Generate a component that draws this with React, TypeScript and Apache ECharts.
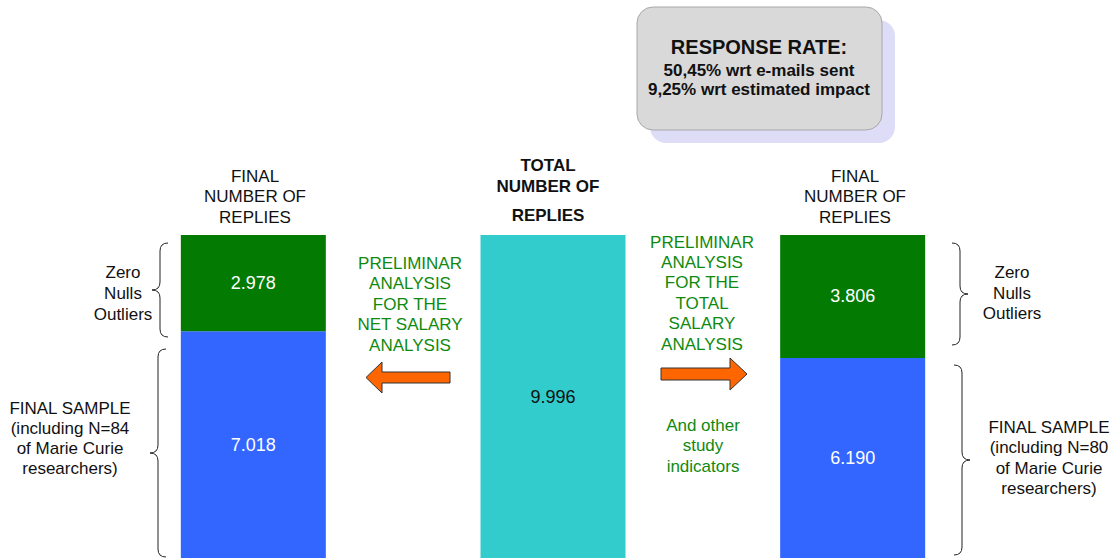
import React, { useEffect, useRef } from "react";
import * as echarts from "echarts";

const categories = ["Net salary", "Total replies", "Total salary"];
const finalSample = [7018, null, 6190];
const zeroNullsOutliers = [2978, null, 3806];
const totalReplies = [null, 9996, null];

const headingSide = "FINAL\nNUMBER OF\nREPLIES";
const headingMidTop = "TOTAL\nNUMBER OF";
const headingMidBottom = "REPLIES";
const zeroText = "Zero\nNulls\nOutliers";
const sampleLeft = "FINAL SAMPLE\n(including N=84\nof Marie Curie\nresearchers)";
const sampleRight = "FINAL SAMPLE\n(including N=80\nof Marie Curie\nresearchers)";
const prelimLeft = "PRELIMINAR\nANALYSIS\nFOR THE\nNET SALARY\nANALYSIS";
const prelimRight = "PRELIMINAR\nANALYSIS\nFOR THE\nTOTAL\nSALARY\nANALYSIS";
const otherText = "And other\nstudy\nindicators";
const rateTitle = "RESPONSE RATE:";
const rateLine1 = "50,45% wrt e-mails sent";
const rateLine2 = "9,25% wrt estimated impact";

const FONT = '"Liberation Sans", Arial, sans-serif';
const GREEN_TEXT = "#0F8A0F";

function fmt(v: number): string {
  return String(v).replace(/\B(?=(\d{3})+(?!\d))/g, ".");
}

function brace(xl: number, y1: number, y2: number, dir: number) {
  const r = 8;
  const ry = 8;
  const ym = (y1 + y2) / 2;
  const endX = xl - dir * r;
  const tipX = xl + dir * r;
  const st = { stroke: "#222", lineWidth: 1, fill: null };
  return {
    type: "group",
    children: [
      { type: "bezierCurve", shape: { x1: endX, y1: y1, cpx1: xl, cpy1: y1, x2: xl, y2: y1 + ry }, style: st },
      { type: "line", shape: { x1: xl, y1: y1 + ry, x2: xl, y2: ym - ry }, style: st },
      { type: "bezierCurve", shape: { x1: xl, y1: ym - ry, cpx1: xl, cpy1: ym, x2: tipX, y2: ym }, style: st },
      { type: "bezierCurve", shape: { x1: tipX, y1: ym, cpx1: xl, cpy1: ym, x2: xl, y2: ym + ry }, style: st },
      { type: "line", shape: { x1: xl, y1: ym + ry, x2: xl, y2: y2 - ry }, style: st },
      { type: "bezierCurve", shape: { x1: xl, y1: y2 - ry, cpx1: xl, cpy1: y2, x2: endX, y2: y2 }, style: st },
    ],
  };
}

function txt(text: string, x: number, y: number, size: number, fill: string, lineHeight: number, weight = "normal") {
  return {
    type: "text",
    x,
    y,
    style: {
      text,
      fill,
      fontFamily: FONT,
      fontSize: size,
      fontWeight: weight,
      lineHeight,
      align: "center",
      verticalAlign: "middle",
    },
  };
}

export default function App() {
  const ref = useRef<HTMLDivElement>(null);
  useEffect(() => {
    document.body.style.margin = "0";
    if (!ref.current) return;
    const chart = echarts.init(ref.current, undefined, { renderer: "svg" });
    const labelWhite = {
      show: true,
      position: "inside",
      color: "#fff",
      fontFamily: FONT,
      fontSize: 18,
      formatter: (p: any) => fmt(p.value),
    };
    chart.setOption({
      animation: false,
      backgroundColor: "#fff",
      grid: { left: 103.5, right: 114.5, top: 235, bottom: 0 },
      xAxis: { type: "category", data: categories, show: false },
      yAxis: { type: "value", min: 0, max: 9996, show: false },
      series: [
        {
          name: "Final sample",
          type: "bar",
          stack: "a",
          barWidth: 145,
          data: finalSample,
          itemStyle: { color: "#3366FF" },
          label: labelWhite,
        },
        {
          name: "Zero / Nulls / Outliers",
          type: "bar",
          stack: "a",
          barWidth: 145,
          data: zeroNullsOutliers,
          itemStyle: { color: "#037B03" },
          label: labelWhite,
        },
        {
          name: "Total number of replies",
          type: "bar",
          stack: "a",
          barWidth: 145,
          data: totalReplies,
          itemStyle: { color: "#33CCCC" },
          label: { ...labelWhite, color: "#111" },
        },
      ],
      graphic: [
        // response rate box
        { type: "rect", shape: { x: 650, y: 20, width: 245, height: 123, r: 16 }, style: { fill: "#DDDDF8" } },
        { type: "rect", shape: { x: 637, y: 7, width: 245, height: 123, r: 16 }, style: { fill: "#D9D9D9", stroke: "#A8A8A8", lineWidth: 1 } },
        txt(rateTitle, 759, 47, 20, "#111", 22, "bold"),
        txt(rateLine1, 759, 70, 17, "#111", 19, "bold"),
        txt(rateLine2, 759, 89, 17, "#111", 19, "bold"),
        // headings
        txt(headingSide, 255, 196.5, 17, "#111", 20.5),
        txt(headingSide, 855, 196.5, 17, "#111", 20.5),
        txt(headingMidTop, 548, 175.5, 17, "#111", 21, "bold"),
        txt(headingMidBottom, 548, 215, 17, "#111", 21, "bold"),
        // side annotations
        txt(zeroText, 123, 293, 17, "#111", 21),
        txt(zeroText, 1012, 293, 17, "#111", 20.5),
        txt(sampleLeft, 70, 438.5, 17, "#111", 20.3),
        txt(sampleRight, 1049, 458, 17, "#111", 20.5),
        brace(160, 243, 337, -1),
        brace(158, 349, 557, -1),
        brace(960, 243, 345, 1),
        brace(962, 365, 555, 1),
        // green texts
        txt(prelimLeft, 410, 304, 17, GREEN_TEXT, 20.5),
        txt(prelimRight, 702, 293, 17, GREEN_TEXT, 20.4),
        txt(otherText, 703, 445.5, 17, GREEN_TEXT, 20.5),
        // arrows
        {
          type: "polygon",
          shape: { points: [[450, 372], [382, 372], [382, 362], [366, 377.5], [382, 393], [382, 383], [450, 383]] },
          style: { fill: "#FF6600", stroke: "#333", lineWidth: 1 },
        },
        {
          type: "polygon",
          shape: { points: [[661, 368], [730, 368], [730, 358], [747, 374], [730, 390], [730, 380], [661, 380]] },
          style: { fill: "#FF6600", stroke: "#333", lineWidth: 1 },
        },
      ],
    });
    return () => chart.dispose();
  }, []);
  return <div ref={ref} style={{ width: 1117, height: 558 }} />;
}
